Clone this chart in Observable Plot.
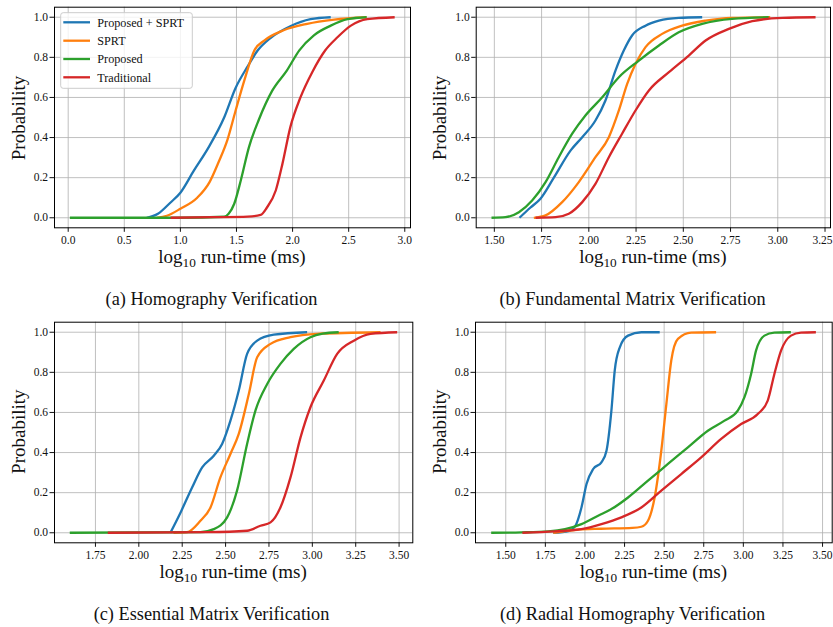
<!DOCTYPE html>
<html>
<head>
<meta charset="utf-8">
<script src="https://cdn.jsdelivr.net/npm/d3@7"></script>
<script src="https://cdn.jsdelivr.net/npm/@observablehq/plot@0.6"></script>
<style>
  html, body { margin: 0; padding: 0; background: #fff; }
  #page { position: relative; width: 833px; height: 627px; overflow: hidden; }
  .panel { position: absolute; }
  #overlay { position: absolute; left: 0; top: 0; pointer-events: none; }
</style>
</head>
<body>
<div id="page">
  <div class="panel" id="pa"></div>
  <div class="panel" id="pb"></div>
  <div class="panel" id="pc"></div>
  <div class="panel" id="pd"></div>
</div>
<script>
// ---------- Data ----------
const seriesNames = ["Proposed + SPRT", "SPRT", "Proposed", "Traditional"];
const seriesColors = ["#1f77b4", "#ff7f0e", "#2ca02c", "#d62728"];
const yTicks = [0, 0.2, 0.4, 0.6, 0.8, 1.0];
const captions = ["(a) Homography Verification", "(b) Fundamental Matrix Verification",
                  "(c) Essential Matrix Verification", "(d) Radial Homography Verification"];
const xTicksA = [0, 0.5, 1.0, 1.5, 2.0, 2.5, 3.0];
const xTicksB = [1.50, 1.75, 2.00, 2.25, 2.50, 2.75, 3.00, 3.25];
const xTicksC = [1.75, 2.00, 2.25, 2.50, 2.75, 3.00, 3.25, 3.50];
const xTicksD = [1.50, 1.75, 2.00, 2.25, 2.50, 2.75, 3.00, 3.25, 3.50];

// (a) Homography Verification: [log10 run-time, probability]
const homPropSprt = [[0.70,0],[0.80,0.02],[0.91,0.075],[1.00,0.125],[1.12,0.235],[1.25,0.35],[1.39,0.50],[1.49,0.645],[1.60,0.755],[1.69,0.835],[1.80,0.895],[1.98,0.955],[2.16,0.99],[2.34,1.0]];
const homSprt = [[0.79,0],[0.88,0.01],[1.00,0.045],[1.15,0.10],[1.26,0.178],[1.34,0.277],[1.42,0.39],[1.49,0.53],[1.57,0.685],[1.66,0.835],[1.75,0.885],[1.92,0.935],[2.13,0.967],[2.37,0.988],[2.66,1.0]];
const homProposed = [[0.015,0],[1.0,0],[1.39,0.005],[1.43,0.02],[1.48,0.07],[1.54,0.19],[1.61,0.35],[1.70,0.49],[1.82,0.635],[1.95,0.735],[2.06,0.835],[2.19,0.91],[2.34,0.958],[2.49,0.99],[2.66,1.0]];
const homTraditional = [[0.913,0],[1.3,0.003],[1.6,0.006],[1.715,0.014],[1.77,0.05],[1.85,0.136],[1.91,0.27],[1.98,0.452],[2.07,0.60],[2.175,0.726],[2.29,0.834],[2.40,0.90],[2.52,0.958],[2.665,0.99],[2.91,1.0]];

// (b) Fundamental Matrix Verification
const funPropSprt = [[1.633,0],[1.69,0.05],[1.744,0.095],[1.815,0.2],[1.904,0.336],[1.965,0.402],[2.035,0.485],[2.088,0.585],[2.141,0.734],[2.185,0.834],[2.229,0.909],[2.30,0.958],[2.371,0.983],[2.476,0.997],[2.60,1.0]];
const funSprt = [[1.709,0],[1.771,0.012],[1.859,0.078],[1.947,0.178],[2.035,0.302],[2.106,0.402],[2.159,0.535],[2.203,0.668],[2.247,0.767],[2.30,0.851],[2.388,0.917],[2.494,0.958],[2.618,0.983],[2.758,0.997],[2.96,1.0]];
const funProposed = [[1.485,0],[1.559,0.003],[1.63,0.028],[1.70,0.086],[1.771,0.178],[1.841,0.302],[1.912,0.419],[1.982,0.51],[2.071,0.601],[2.159,0.701],[2.265,0.784],[2.371,0.859],[2.476,0.925],[2.60,0.967],[2.758,0.992],[2.952,1.0]];
const funTraditional = [[1.718,0],[1.824,0.003],[1.894,0.02],[1.965,0.078],[2.035,0.169],[2.106,0.302],[2.176,0.419],[2.247,0.535],[2.318,0.635],[2.424,0.726],[2.529,0.809],[2.618,0.884],[2.741,0.942],[2.865,0.98],[3.024,0.997],[3.20,1.0]];

// (c) Essential Matrix Verification
const essPropSprt = [[2.182,0],[2.24,0.10],[2.307,0.226],[2.365,0.326],[2.432,0.384],[2.48,0.443],[2.528,0.559],[2.576,0.709],[2.624,0.892],[2.682,0.958],[2.778,0.988],[2.97,1.0]];
const essSprt = [[2.20,0],[2.278,0.003],[2.355,0.06],[2.413,0.126],[2.47,0.276],[2.528,0.393],[2.576,0.493],[2.634,0.692],[2.682,0.875],[2.759,0.942],[2.874,0.975],[3.028,0.992],[3.393,1.0]];
const essProposed = [[1.602,0],[2.355,0.003],[2.432,0.018],[2.509,0.077],[2.566,0.21],[2.624,0.443],[2.672,0.609],[2.74,0.742],[2.816,0.842],[2.893,0.917],[2.989,0.975],[3.06,0.993],[3.152,1.0]];
const essTraditional = [[1.821,0],[2.4,0.003],[2.624,0.01],[2.701,0.035],[2.759,0.052],[2.816,0.126],[2.874,0.276],[2.932,0.476],[2.989,0.626],[3.066,0.759],[3.143,0.892],[3.239,0.958],[3.335,0.992],[3.489,1.0]];

// (d) Radial Homography Verification
const radPropSprt = [[1.80,0],[1.90,0.01],[1.94,0.035],[1.978,0.126],[2.01,0.243],[2.052,0.318],[2.104,0.351],[2.136,0.409],[2.167,0.609],[2.188,0.809],[2.22,0.925],[2.272,0.983],[2.356,1.0],[2.472,1.0]];
const radSprt = [[1.80,0],[1.95,0.015],[2.10,0.02],[2.30,0.024],[2.356,0.03],[2.398,0.06],[2.44,0.176],[2.482,0.409],[2.514,0.642],[2.545,0.859],[2.587,0.967],[2.671,0.998],[2.828,1.0]];
const radProposed = [[1.408,0],[1.60,0.002],[1.769,0.007],[1.874,0.018],[1.978,0.043],[2.083,0.085],[2.167,0.118],[2.272,0.176],[2.398,0.26],[2.524,0.343],[2.65,0.426],[2.776,0.509],[2.881,0.559],[2.965,0.609],[3.007,0.676],[3.049,0.792],[3.08,0.908],[3.133,0.983],[3.196,0.998],[3.30,1.0]];
const radTraditional = [[1.605,0],[1.811,0.007],[1.978,0.018],[2.104,0.043],[2.23,0.077],[2.356,0.126],[2.482,0.21],[2.608,0.293],[2.734,0.376],[2.86,0.468],[2.986,0.542],[3.091,0.592],[3.154,0.659],[3.196,0.792],[3.238,0.908],[3.301,0.983],[3.364,0.998],[3.458,1.0]];

// ---------- Layout ----------
const FONT = "'Liberation Serif', 'Times New Roman', serif";
const panels = [
  {id: "pa", left: 0,   top: 0,   width: 415, height: 310, mL: 54,   mR: 5,   mT: 6.7,  mB: 82.7,
   xDomain: [-0.122, 3.051], xTicks: xTicksA, fmt: ".1f", edgeTick: null,
   series: [homPropSprt, homSprt, homProposed, homTraditional]},
  {id: "pb", left: 415, top: 0,   width: 418, height: 310, mL: 60.7, mR: 3,   mT: 6.7,  mB: 82.7,
   xDomain: [1.404, 3.279], xTicks: xTicksB, fmt: ".2f", edgeTick: 3.25,
   series: [funPropSprt, funSprt, funProposed, funTraditional]},
  {id: "pc", left: 0,   top: 310, width: 415, height: 317, mL: 54,   mR: 2.7, mT: 11.7, mB: 84.7,
   xDomain: [1.514, 3.579], xTicks: xTicksC, fmt: ".2f", edgeTick: null,
   series: [essPropSprt, essSprt, essProposed, essTraditional]},
  {id: "pd", left: 415, top: 310, width: 418, height: 317, mL: 60,   mR: 1.3, mT: 11.7, mB: 84.7,
   xDomain: [1.309, 3.561], xTicks: xTicksD, fmt: ".2f", edgeTick: null,
   series: [radPropSprt, radSprt, radProposed, radTraditional]}
];

for (const p of panels) {
  const el = document.getElementById(p.id);
  el.style.left = p.left + "px";
  el.style.top = p.top + "px";
  const fmt = d3.format(p.fmt);
  const lines = p.series.map((pts, i) => Plot.line(pts, {
    x: d => d[0], y: d => d[1], stroke: seriesColors[i], strokeWidth: 2.3,
    curve: "monotone-x", strokeLinecap: "butt", strokeLinejoin: "round"
  }));
  const marks = [
    Plot.gridX({ticks: p.xTicks, stroke: "#b0b0b0", strokeOpacity: 1, strokeWidth: 0.8}),
    Plot.gridY({ticks: yTicks, stroke: "#b0b0b0", strokeOpacity: 1, strokeWidth: 0.8}),
    ...lines,
    Plot.frame({stroke: "#000", strokeWidth: 1}),
    Plot.axisX({ticks: p.xTicks, tickFormat: d => (d === p.edgeTick ? "" : fmt(d)),
                tickSize: 4.5, tickPadding: 3.2, label: null}),
    Plot.axisY({ticks: yTicks, tickFormat: d3.format(".1f"), tickSize: 4.5, tickPadding: 2, label: null})
  ];
  if (p.edgeTick !== null) {
    // label that sits right at the panel edge: nudged slightly inward, as in the reference
    marks.push(Plot.axisX({ticks: [p.edgeTick], tickFormat: fmt, tickSize: 0, tickPadding: 7.7, dx: -2.5, label: null}));
  }
  const chart = Plot.plot({
    width: p.width, height: p.height,
    marginLeft: p.mL, marginRight: p.mR, marginTop: p.mT, marginBottom: p.mB,
    x: {domain: p.xDomain},
    y: {domain: [-0.05, 1.05]},
    style: {fontFamily: FONT, fontSize: "11.5px", color: "#111", background: "transparent", overflow: "visible"},
    marks
  });
  el.appendChild(chart);
}

// ---------- Text overlay: axis titles, captions, legend ----------
const svg = d3.select("#page").append("svg").attr("id", "overlay")
  .attr("width", 833).attr("height", 627)
  .style("font-family", FONT).style("fill", "#111");

const xLabelPos = [[232, 263.3], [652.8, 263.3], [233.2, 578.3], [653.3, 578.3]];
const yLabelPos = [[25.2, 118], [445.5, 118], [25.2, 431.7], [445.5, 431.7]];
const captionPos = [[211.5, 305], [632.5, 305], [211.5, 619.5], [632.5, 619.5]];

xLabelPos.forEach(([x, y]) => {
  const t = svg.append("text").attr("x", x).attr("y", y).attr("text-anchor", "middle").attr("font-size", 19);
  t.append("tspan").text("log");
  t.append("tspan").attr("font-size", 13.3).attr("dy", 4).text("10");
  t.append("tspan").attr("dy", -4).text(" run-time (ms)");
});
yLabelPos.forEach(([x, y]) => {
  svg.append("text").attr("transform", `translate(${x},${y}) rotate(-90)`)
    .attr("text-anchor", "middle").attr("font-size", 19).text("Probability");
});
captionPos.forEach(([x, y], i) => {
  svg.append("text").attr("x", x).attr("y", y).attr("text-anchor", "middle")
    .attr("font-size", 18.3).text(captions[i]);
});

// Legend (panel a)
const lg = svg.append("g");
lg.append("rect").attr("x", 60.7).attr("y", 12.7).attr("width", 131.6).attr("height", 75.6)
  .attr("rx", 2.5).attr("fill", "#fff").attr("fill-opacity", 0.8)
  .attr("stroke", "#cccccc").attr("stroke-width", 1);
const legendY = [22.3, 40.7, 59, 77.3];
seriesNames.forEach((name, i) => {
  lg.append("line").attr("x1", 63.3).attr("x2", 90).attr("y1", legendY[i]).attr("y2", legendY[i])
    .attr("stroke", seriesColors[i]).attr("stroke-width", 2.3);
  lg.append("text").attr("x", 97.3).attr("y", legendY[i] + 4.3).attr("font-size", 12.2).text(name);
});
</script>
</body>
</html>
